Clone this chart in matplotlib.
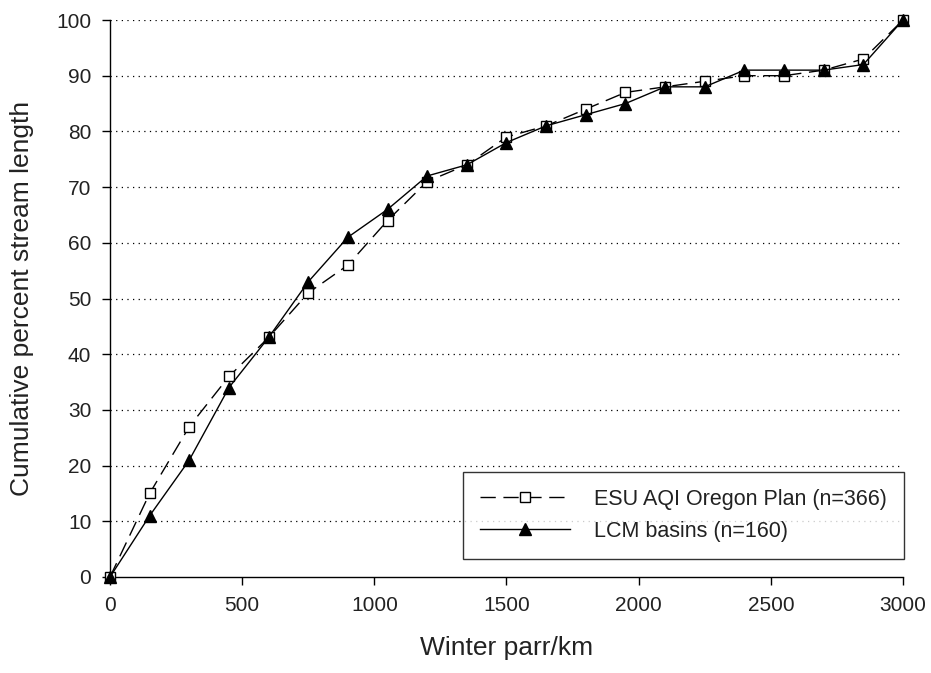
import matplotlib
matplotlib.use("Agg")
import matplotlib.pyplot as plt

parr_per_km = [0, 150, 300, 450, 600, 750, 900, 1050, 1200, 1350, 1500, 1650,
               1800, 1950, 2100, 2250, 2400, 2550, 2700, 2850, 3000]
esu_aqi = [0, 15, 27, 36, 43, 51, 56, 64, 71, 74, 79, 81, 84, 87, 88, 89, 90, 90, 91, 93, 100]
lcm_basins = [0, 11, 21, 34, 43, 53, 61, 66, 72, 74, 78, 81, 83, 85, 88, 88, 91, 91, 91, 92, 100]
label_esu = "ESU AQI Oregon Plan (n=366)"
label_lcm = "LCM basins (n=160)"
x_ticks = [0, 500, 1000, 1500, 2000, 2500, 3000]
y_ticks = [0, 10, 20, 30, 40, 50, 60, 70, 80, 90, 100]

plt.rcParams['font.family'] = ['Liberation Sans', 'DejaVu Sans']
txt = '#222222'

fig = plt.figure(figsize=(9.31, 6.73), dpi=100)
ax = fig.add_axes([110/931, 1 - 577/673, (903 - 110)/931, (577 - 20)/673])

ax.plot(parr_per_km, esu_aqi, color='black', lw=1.0, linestyle=(0, (11, 5.5)),
        marker='s', markersize=6.5, markerfacecolor='white', markeredgecolor='black',
        markeredgewidth=1.0, label=label_esu, zorder=3, clip_on=False)
ax.plot(parr_per_km, lcm_basins, color='black', lw=1.0, linestyle='-',
        marker='^', markersize=8, markerfacecolor='black', markeredgecolor='black',
        label=label_lcm, zorder=4, clip_on=False)

ax.set_xlim(0, 3000)
ax.set_ylim(0, 100)
ax.set_xticks(x_ticks)
ax.set_yticks(y_ticks)
for y in y_ticks[1:]:
    ax.axhline(y, color='black', lw=0.9, linestyle=(0, (1, 3.5)), zorder=1)

for s in ['top', 'right']:
    ax.spines[s].set_visible(False)
for s in ['left', 'bottom']:
    ax.spines[s].set_linewidth(1.0)
    ax.spines[s].set_color('black')

ax.tick_params(axis='both', direction='out', length=5.5, width=1.0, colors='black',
               labelsize=15, labelcolor=txt, pad=8)

ax.set_xlabel("Winter parr/km", fontsize=19, color=txt, labelpad=15)
ax.set_ylabel("Cumulative percent stream length", fontsize=19, color=txt, labelpad=16)

leg = ax.legend(loc='lower right', bbox_to_anchor=((904 - 110)/(903 - 110), (577 - 559)/(577 - 20)),
                fontsize=15.5, frameon=True, fancybox=False, edgecolor='black',
                handlelength=4.2, handletextpad=1.1, numpoints=1, borderpad=0.8,
                labelspacing=0.5, borderaxespad=0)
leg.get_frame().set_linewidth(1.0)
for t in leg.get_texts():
    t.set_color(txt)

fig.savefig("out.png", dpi=100, facecolor='white')
